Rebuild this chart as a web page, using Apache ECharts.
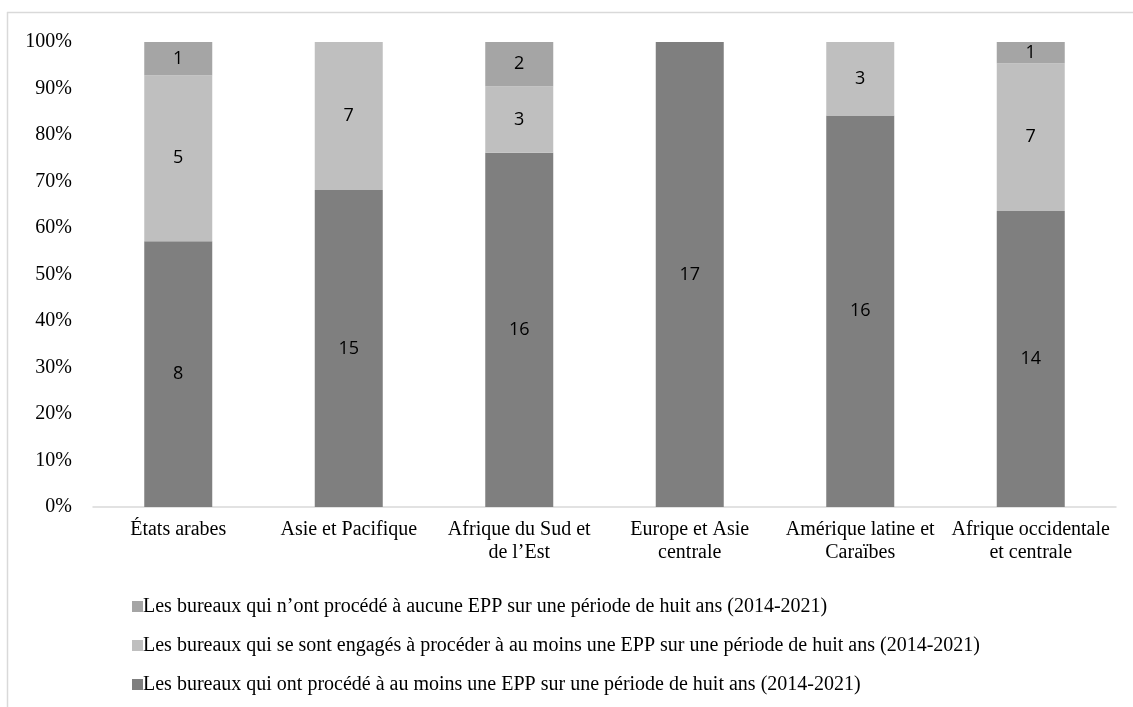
<!DOCTYPE html>
<html>
<head>
<meta charset="utf-8">
<script src="https://cdn.jsdelivr.net/npm/echarts@6/dist/echarts.min.js"></script>
<style>
  html, body { margin: 0; padding: 0; background: #fff; }
  #chart { width: 1133px; height: 707px; }
</style>
</head>
<body>
<div id="chart"></div>
<script type="text/javascript">
  // catégories et effectifs
  var regions = ['États arabes', 'Asie et Pacifique', 'Afrique du Sud et\nde l\u2019Est', 'Europe et Asie\ncentrale', 'Amérique latine et\nCaraïbes', 'Afrique occidentale\net centrale'];
  var avecEpp = [8, 15, 16, 17, 16, 14];
  var engages = [5, 7, 3, 0, 3, 7];
  var aucune = [1, 0, 2, 0, 0, 1];
  var yTicks = [0, 10, 20, 30, 40, 50, 60, 70, 80, 90, 100];

  var noms = [
    'Les bureaux qui ont procédé à au moins une EPP sur une période de huit ans (2014-2021)',
    'Les bureaux qui se sont engagés à procéder à au moins une EPP sur une période de huit ans (2014-2021)',
    'Les bureaux qui n\u2019ont procédé à aucune EPP sur une période de huit ans (2014-2021)'
  ];
  var couleurs = ['#7f7f7f', '#bfbfbf', '#a5a5a5'];

  var totaux = regions.map(function(r, i) { return avecEpp[i] + engages[i] + aucune[i]; });

  function pct(arr) {
    return arr.map(function(v, i) { return { value: v / totaux[i] * 100, n: v }; });
  }

  var serif = '"Liberation Serif", "Times New Roman", serif';

  var chart = echarts.init(document.getElementById('chart'), null, { renderer: 'canvas' });

  var series = [avecEpp, engages, aucune].map(function(arr, k) {
    return {
      name: noms[k],
      type: 'bar',
      stack: 'total',
      barWidth: 68,
      itemStyle: { color: couleurs[k] },
      label: {
        show: true,
        position: 'inside',
        color: '#000',
        fontFamily: '"Open Sans", "DejaVu Sans", sans-serif',
        fontSize: 18,
        formatter: function(p) { return p.data.n > 0 ? p.data.n : ''; }
      },
      data: pct(arr)
    };
  });

  chart.setOption({
    animation: false,
    backgroundColor: '#fff',
    grid: { left: 93, right: 17, top: 42, bottom: 200 },
    graphic: [
      { type: 'line', shape: { x1: 7.5, y1: 12, x2: 7.5, y2: 707 }, style: { stroke: '#d9d9d9', lineWidth: 1.5 } },
      { type: 'line', shape: { x1: 7, y1: 12.5, x2: 1133, y2: 12.5 }, style: { stroke: '#d9d9d9', lineWidth: 1.5 } }
    ],
    legend: {
      orient: 'vertical',
      left: 127,
      top: 591,
      itemWidth: 11,
      itemHeight: 11,
      itemGap: 18,
      icon: 'rect',
      data: [noms[2], noms[1], noms[0]],
      textStyle: { fontFamily: serif, fontSize: 20, color: '#000', lineHeight: 21, padding: [0, 0, 0, -5] }
    },
    xAxis: {
      type: 'category',
      data: regions,
      axisLine: { lineStyle: { color: '#d9d9d9', width: 1.5 } },
      axisTick: { show: false },
      axisLabel: { interval: 0, fontFamily: serif, fontSize: 20, color: '#000', lineHeight: 23, margin: 11 }
    },
    yAxis: {
      type: 'value',
      min: yTicks[0],
      max: yTicks[yTicks.length - 1],
      interval: 10,
      splitLine: { show: false },
      axisLine: { show: false },
      axisTick: { show: false },
      axisLabel: { formatter: '{value}%', fontFamily: serif, fontSize: 20, color: '#000', margin: 21 }
    },
    series: series
  });
</script>
</body>
</html>
